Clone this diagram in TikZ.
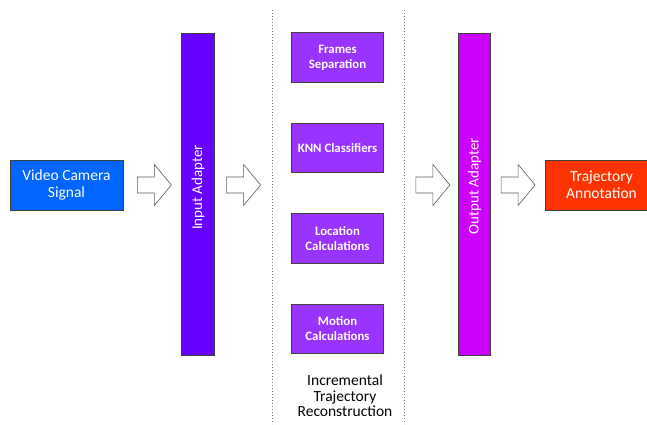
\documentclass[tikz,border=0pt]{standalone}
\usepackage{fontspec}
\setmainfont{Carlito}
\usetikzlibrary{calc}
\begin{document}
\begin{tikzpicture}[x=1pt,y=-1pt,
  box/.style={draw=black!75,line width=0.7pt,inner sep=0pt,text=white,align=center},
  bigbox/.style={box,minimum width=113pt,minimum height=50pt,font=\fontsize{15.5}{16.7}\selectfont},
  stagebox/.style={box,fill=stagecol,minimum width=92pt,minimum height=49.5pt,font=\fontsize{12.8}{15}\selectfont\bfseries},
  bar/.style={box,minimum width=32.5pt,minimum height=322pt},
  barlabel/.style={text=white,rotate=90,font=\fontsize{15}{16}\selectfont},
  blockarrow/.style={draw=black!65,fill=white,line width=0.6pt,line join=miter},
  sep/.style={draw=black!55,dotted,line width=1pt}
]
\definecolor{vccol}{HTML}{0066FF}
\definecolor{incol}{HTML}{6600FF}
\definecolor{stagecol}{HTML}{9933FF}
\definecolor{outcol}{HTML}{CC00FF}
\definecolor{trcol}{HTML}{FF3300}
\useasboundingbox (0,0) rectangle (647,425);

% separators
\coordinate (s1t) at (272.7,10);
\coordinate (s1b) at (272.7,424);
\coordinate (s2t) at (404,10);
\coordinate (s2b) at (404,424);
\draw[sep] (s1t) -- (s1b);
\draw[sep] (s2t) -- (s2b);

% nodes
\node[bigbox,fill=vccol] (vc) at (66.5,185) {Video Camera\\Signal};
\node[bar,fill=incol] (in) at (198,194) {};
\node[barlabel] (inl) at (198,187.5) {Input Adapter};
\node[stagebox] (fs) at (337.5,57.5) {Frames\\Separation};
\node[stagebox] (knn) at (337.5,148) {KNN Classifiers};
\node[stagebox] (lc) at (337.5,238.5) {Location\\Calculations};
\node[stagebox] (mc) at (337.5,329) {Motion\\Calculations};
\node[align=center,font=\fontsize{15.5}{15.5}\selectfont] (itr) at (345,396) {Incremental\\Trajectory\\Reconstruction};
\node[bar,fill=outcol] (out) at (474.5,194) {};
\node[barlabel] (outl) at (474.5,186) {Output Adapter};
\node[bigbox,fill=trcol] (tr) at (601.5,185) {Trajectory\\Annotation};

% block arrows
\newcommand{\blockarr}[1]{%
  \draw[blockarrow] ($(#1)+(0,-8)$) -- ++(17,0) -- ++(0,-12.5) -- ++(17,20.5) -- ++(-17,20.5) -- ++(0,-12.5) -- ++(-17,0) -- cycle;}
\coordinate (a1) at ($(vc.east |- vc.center)+(14,0)$);
\coordinate (a2) at ($(in.east |- vc.center)+(12,0)$);
\coordinate (a3) at ($(out.west |- vc.center)+(-42,0)$);
\coordinate (a4) at ($(out.east |- vc.center)+(10,0)$);
\blockarr{a1}
\blockarr{a2}
\blockarr{a3}
\blockarr{a4}
\end{tikzpicture}
\end{document}
